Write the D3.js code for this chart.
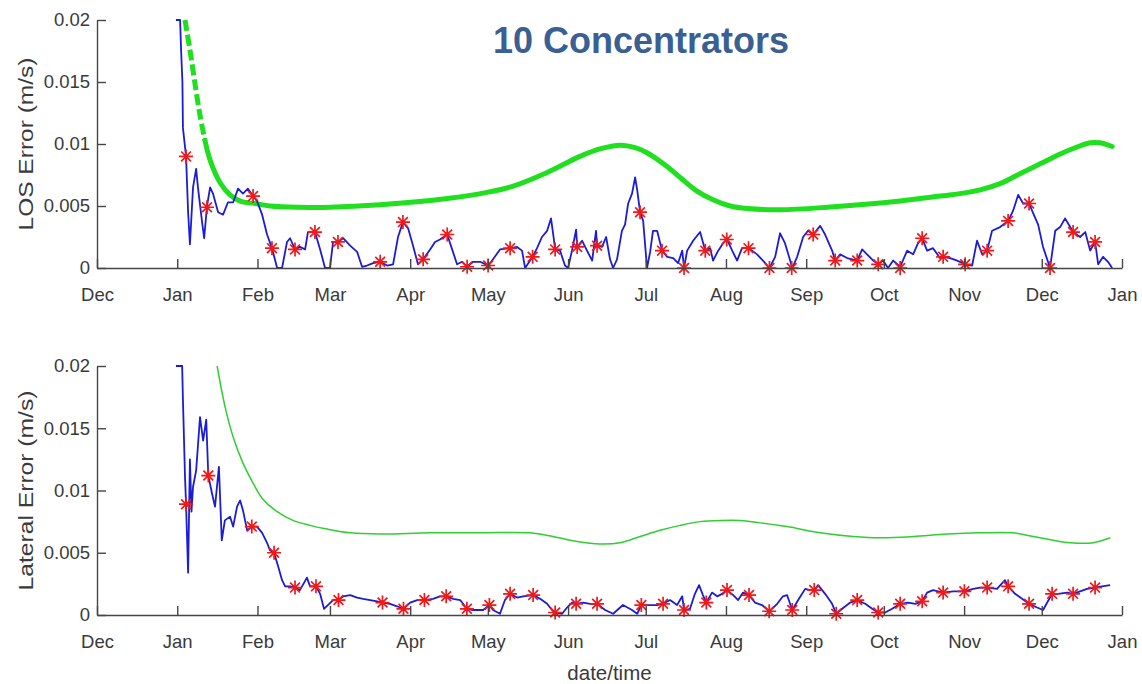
<!DOCTYPE html>
<html>
<head>
<meta charset="utf-8">
<script src="https://cdn.jsdelivr.net/npm/d3@7/dist/d3.min.js"></script>
<style>
  html, body { margin: 0; padding: 0; background: #fff; }
  svg { display: block; font-family: "Liberation Sans", Arial, sans-serif; }
</style>
</head>
<body>
<svg id="chart" width="1142" height="684"></svg>
<script>
// Time axis: Dec 2014 through Jan 2016, one tick per month
const monthLabels = ["Dec","Jan","Feb","Mar","Apr","May","Jun","Jul","Aug","Sep","Oct","Nov","Dec","Jan"];
const yTickValues = [0, 0.005, 0.01, 0.015, 0.02];
const yTickLabels = ["0", "0.005", "0.01", "0.015", "0.02"];

// Series points are [day of 2015 (0 = Jan 1), value in m/s]
const losError = [
  [-0.5,0.02],[1.1,0.02],[1.5,0.0175],[2.0,0.015],[2.2,0.0113],[3.4,0.009],[4.2,0.0045],[4.9,0.0019],
  [6.1,0.0065],[7.3,0.008],[8.0,0.0065],[9.6,0.0037],[10.4,0.0024],[11.5,0.005],[12.7,0.0065],[13.8,0.006],
  [15.8,0.0045],[17.7,0.0043],[19.6,0.0053],[21.6,0.0053],[23.5,0.0064],[25.4,0.006],[27.3,0.0064],[29.3,0.0058],
  [30.8,0.0054],[32.8,0.0043],[34.7,0.0027],[36.6,0.0016],[38.6,0],[40.5,0],[42.4,0.0021],[43.6,0.0024],
  [45.5,0.0015],[47.4,0.0017],[49.4,0.0015],[50.5,0.0029],[53.2,0.0029],[55.2,0.0015],[57.1,0],[59.0,0],
  [60.2,0.0021],[62.1,0.0021],[64.1,0.0024],[66.8,0.0018],[69.5,0.0013],[71.4,0.0001],[73.3,0.0002],[75.7,0.0004],
  [78.4,0.0005],[81.1,0.0002],[83.4,0.0003],[85.3,0.0025],[87.2,0.0037],[89.2,0.0032],[91.1,0.0018],[93.0,0.0003],
  [95.0,0.0007],[97.7,0.0015],[99.6,0.0021],[101.5,0.0023],[104.3,0.0027],[106.2,0.0015],[108.1,0.0003],[110.1,0.0005],
  [112.0,0.0001],[114.3,0.0005],[117.0,0.0005],[120.1,0.0002],[122.0,0.0007],[124.7,0.0015],[128.6,0.0016],[131.3,0.0017],
  [133.2,0.0014],[134.4,0],[137.3,0.0009],[139.0,0.0016],[140.9,0.0025],[142.9,0.003],[144.4,0.004],[145.2,0.0028],
  [146.0,0.0015],[147.9,0.0014],[149.8,0.0002],[151.0,0],[152.5,0.0014],[154.1,0.0031],[154.5,0.0017],[156.4,0.0022],
  [158.3,0.0014],[160.3,0.0006],[161.8,0.003],[162.2,0.0018],[164.1,0.0017],[165.7,0.0025],[167.2,0.0007],[168.4,0],
  [169.9,0.0007],[171.8,0.003],[173.0,0.0035],[174.2,0.0052],[175.7,0.006],[176.9,0.0073],[177.7,0.0063],[178.8,0.0045],
  [180.0,0.0038],[181.5,0],[182.7,0.0013],[183.8,0.003],[185.4,0.003],[187.3,0.0014],[189.3,0.0009],[191.6,0.0008],
  [193.5,0.0004],[195.1,0.0014],[195.8,0],[197.0,0.0014],[199.3,0.0022],[202.0,0.0029],[204.0,0.0014],[205.9,0.0016],
  [207.0,0.0006],[209.0,0.0014],[210.9,0.002],[212.4,0.0023],[214.4,0.0014],[216.3,0.0006],[218.2,0.0016],[220.7,0.0016],
  [222.1,0.0014],[224.0,0.0011],[226.3,0.0006],[228.8,0],[231.0,0.0009],[232.9,0.0028],[234.8,0.002],[236.8,0.0006],
  [237.6,0],[239.5,0.0009],[241.8,0.0025],[243.7,0.003],[245.7,0.0027],[248.4,0.0034],[250.3,0.0027],[253.0,0.0014],
  [254.2,0.0006],[256.1,0.0011],[258.8,0.0008],[262.7,0.0006],[264.6,0.0015],[266.5,0.0011],[268.9,0.0006],[270.8,0.0003],
  [272.7,0.0006],[274.6,0],[276.6,0.0006],[279.3,0.0001],[282.0,0.0014],[284.3,0.0011],[286.2,0.002],[287.8,0.0024],
  [289.7,0.0014],[292.0,0.0016],[294.7,0.0008],[295.9,0.0009],[298.6,0.0008],[301.3,0.0006],[304.4,0.0003],[307.1,0.0002],
  [309.0,0.0022],[311.0,0.0011],[312.9,0.0014],[314.8,0.003],[317.9,0.0033],[321.0,0.0038],[322.9,0.0046],[324.9,0.0059],
  [326.8,0.0052],[329.1,0.0052],[330.7,0.0044],[332.6,0.0035],[334.5,0.0017],[337.2,0],[339.2,0.003],[341.1,0.0033],
  [343.0,0.004],[345.0,0.0033],[346.1,0.0029],[348.8,0.0025],[350.8,0.0029],[352.7,0.0014],[354.6,0.0021],[355.8,0.0003],
  [357.7,0.0009],[359.6,0.0005],[361.2,0]
];

const losSamples = [
  [3.4,0.009],[11.5,0.0049],[29.3,0.0058],[36.6,0.0016],[45.5,0.0015],[53.2,0.0029],[62.1,0.0021],[78.4,0.0005],
  [87.2,0.0037],[95.0,0.0007],[104.3,0.0027],[112.0,0.0001],[120.1,0.0002],[128.6,0.0016],[137.3,0.0009],[146.0,0.0015],
  [154.5,0.0017],[162.2,0.0018],[178.8,0.0045],[187.3,0.0014],[195.8,0],[204.0,0.0014],[212.3,0.0023],[220.7,0.0016],
  [228.8,0],[237.4,0],[245.7,0.0027],[254.2,0.0006],[262.7,0.0006],[270.8,0.0003],[279.3,0],[287.8,0.0024],
  [295.9,0.0009],[304.4,0.0003],[312.9,0.0014],[321.0,0.0038],[329.1,0.0052],[337.2,0],[346.1,0.0029],[354.6,0.0021]
];

const losBound = [
  [3.0,0.02],[4.9,0.0176],[6.9,0.0148],[8.8,0.0123],[10.7,0.0103],[12.7,0.0087],[16.5,0.0069],[20.4,0.0059],
  [24.3,0.0054],[30.1,0.0052],[35.9,0.005],[47.4,0.0049],[59.0,0.0049],[78.4,0.0051],[104.3,0.0056],[119.7,0.0061],
  [129.8,0.0066],[142.9,0.0077],[155.6,0.009],[163.3,0.0096],[171.1,0.0099],[176.9,0.0097],[181.5,0.0093],[188.5,0.0083],
  [194.3,0.0073],[200.8,0.0062],[207.0,0.0055],[213.6,0.005],[220.2,0.0048],[232.9,0.0047],[251.1,0.0049],[279.3,0.0054],
  [294.7,0.0058],[302.5,0.006],[310.2,0.0063],[317.9,0.0068],[325.6,0.0076],[333.4,0.0084],[341.1,0.0092],[346.9,0.0097],
  [352.7,0.0101],[356.5,0.0101],[361.2,0.0098]
];

const latError = [
  [-0.5,0.02],[1.9,0.02],[2.2,0.0173],[3.0,0.0111],[3.4,0.0089],[4.2,0.0034],[4.9,0.0125],[5.5,0.0083],
  [6.1,0.0103],[7.3,0.0116],[8.8,0.0159],[10.0,0.014],[11.2,0.0157],[12.0,0.0112],[13.4,0.0098],[14.6,0.0087],
  [16.1,0.0119],[17.2,0.006],[18.4,0.0076],[20.4,0.0079],[21.6,0.0071],[23.1,0.0087],[24.3,0.0092],[25.4,0.0084],
  [27.0,0.0068],[28.8,0.0071],[30.8,0.0071],[32.8,0.0066],[34.7,0.0058],[35.8,0.0052],[37.4,0.005],[39.0,0.0039],
  [40.5,0.0028],[41.7,0.0023],[43.6,0.0023],[45.5,0.0022],[47.4,0.002],[50.1,0.003],[51.3,0.0023],[53.6,0.0023],
  [55.2,0.0017],[56.7,0.0005],[58.2,0.0008],[60.2,0.0012],[62.3,0.0012],[64.1,0.0015],[66.8,0.0016],[69.5,0.0014],
  [71.8,0.0013],[74.5,0.0012],[77.2,0.0011],[79.3,0.001],[82.2,0.0009],[84.9,0.0007],[87.4,0.0005],[90.0,0.001],
  [92.7,0.0012],[95.5,0.0012],[98.8,0.0013],[101.5,0.0015],[103.9,0.0015],[106.6,0.0013],[109.3,0.0012],[111.9,0.0005],
  [114.3,0.0004],[118.2,0.0004],[120.6,0.0008],[122.0,0.0004],[124.7,0.0001],[126.6,0.0012],[128.6,0.0017],[131.3,0.0014],
  [133.6,0.0015],[137.5,0.0016],[140.2,0.0013],[142.9,0.0009],[144.8,0.0004],[146.0,0.0002],[148.7,0.0001],[150.6,0.0006],
  [152.5,0.001],[154.1,0.0009],[156.8,0.001],[159.5,0.0009],[162.2,0.0009],[165.3,0.0004],[168.4,0.0001],[172.2,0.0008],
  [175.7,0.0004],[177.7,0.0001],[179.3,0.0008],[182.7,0.0008],[185.4,0.0008],[187.7,0.0009],[190.4,0.0012],[193.1,0.0008],
  [195.1,0.0015],[195.8,0.0004],[198.1,0.0005],[200.0,0.0017],[201.6,0.0024],[203.1,0.0016],[204.4,0.001],[206.6,0.0018],
  [208.6,0.0015],[210.5,0.0017],[212.4,0.002],[214.8,0.0016],[216.7,0.0012],[218.6,0.0018],[220.9,0.0016],[223.2,0.001],
  [225.9,0.0008],[228.7,0.0003],[231.8,0.0009],[234.0,0.0015],[235.6,0.0016],[237.6,0.0004],[239.9,0.0012],[242.6,0.0021],
  [244.5,0.002],[246.1,0.002],[247.6,0.0024],[250.3,0.0017],[253.0,0.0009],[254.6,0.0001],[256.9,0.0005],[260.0,0.001],
  [262.7,0.0012],[265.8,0.0009],[268.5,0.0005],[270.8,0.0002],[273.5,0.0002],[276.2,0.0005],[279.3,0.0009],[282.4,0.001],
  [285.1,0.0009],[287.8,0.0011],[289.7,0.0018],[292.0,0.002],[295.9,0.0018],[299.8,0.0019],[304.1,0.0019],[307.5,0.0021],
  [310.2,0.0022],[312.9,0.0022],[316.7,0.0021],[319.8,0.0028],[321.0,0.0023],[323.7,0.0017],[326.4,0.0013],[329.1,0.0009],
  [332.2,0.0006],[334.5,0.0004],[336.1,0.001],[338.0,0.0017],[340.3,0.0017],[343.8,0.0018],[346.1,0.0017],[348.8,0.0019],
  [351.5,0.0021],[354.6,0.0022],[357.3,0.0023],[360.4,0.0024]
];

const latSamples = [
  [3.4,0.0089],[12.0,0.0112],[28.8,0.0071],[37.4,0.005],[45.5,0.0022],[53.6,0.0023],[62.3,0.0012],[79.3,0.001],
  [87.4,0.0005],[95.5,0.0012],[103.9,0.0015],[111.9,0.0005],[120.6,0.0008],[128.6,0.0017],[137.5,0.0016],[146.0,0.0002],
  [154.1,0.0009],[162.2,0.0009],[179.3,0.0008],[187.7,0.0009],[195.8,0.0004],[204.4,0.001],[212.4,0.002],[220.9,0.0016],
  [228.7,0.0003],[237.6,0.0004],[246.1,0.002],[254.6,0.0001],[262.7,0.0012],[270.8,0.0002],[279.3,0.0009],[287.8,0.0011],
  [295.9,0.0018],[304.1,0.0019],[312.9,0.0022],[321.0,0.0023],[329.1,0.0009],[338.0,0.0017],[346.1,0.0017],[354.6,0.0022]
];

const latBound = [
  [15.4,0.02],[18.5,0.0167],[21.6,0.0143],[25.4,0.0122],[29.3,0.0106],[33.1,0.0093],[38.6,0.0083],[44.7,0.0076],
  [51.3,0.0072],[57.9,0.0069],[66.8,0.0066],[78.4,0.0065],[97.7,0.0066],[117.0,0.0066],[136.3,0.0066],[145.2,0.0063],
  [154.5,0.0059],[163.3,0.0057],[171.1,0.0058],[178.8,0.0063],[186.5,0.0068],[194.3,0.0072],[202.0,0.0075],[209.7,0.0076],
  [217.5,0.0076],[225.2,0.0074],[235.6,0.0071],[248.4,0.0066],[261.2,0.0063],[271.6,0.0062],[284.3,0.0063],[297.5,0.0065],
  [310.2,0.0066],[323.0,0.0066],[330.7,0.0063],[338.4,0.006],[345.0,0.0058],[353.9,0.0058],[360.5,0.0062]
];

const yearStart = Date.UTC(2015, 0, 1);
const toDate = d => new Date(yearStart + d * 864e5);

const svg = d3.select("#chart");
const left = 97, right = 1122;

const x = d3.scaleUtc()
  .domain([new Date(Date.UTC(2014, 11, 1)), new Date(Date.UTC(2016, 0, 1))])
  .range([left, right]);

const axisColor = "#454545";
const textColor = "#3a3a3a";

// MATLAB-style asterisk marker
function asterisk(r) {
  const a = r * 0.7;
  return `M${-r},0H${r}M0,${-r}V${r}M${-a},${-a}L${a},${a}M${-a},${a}L${a},${-a}`;
}

function drawPanel(opts) {
  const y = d3.scaleLinear().domain([0, 0.02]).range([opts.bottom, opts.top]);
  const g = svg.append("g");

  const clipId = "clip-" + opts.id;
  svg.append("clipPath").attr("id", clipId)
    .append("rect").attr("x", left).attr("y", opts.top - 1)
    .attr("width", right - left).attr("height", opts.bottom - opts.top + 12);

  const plot = g.append("g").attr("clip-path", `url(#${clipId})`);

  const smooth = d3.line().x(d => x(toDate(d[0]))).y(d => y(d[1])).curve(d3.curveCatmullRom.alpha(0.5));
  const jagged = d3.line().x(d => x(toDate(d[0]))).y(d => y(d[1]));

  // bound curve
  if (opts.dashedAbove != null) {
    const cut = opts.bound.findIndex(d => d[1] < opts.dashedAbove);
    plot.append("path").datum(opts.bound.slice(0, cut))
      .attr("d", smooth).attr("fill", "none")
      .attr("stroke", opts.boundColor).attr("stroke-width", opts.boundWidth)
      .attr("stroke-dasharray", "11,4");
    plot.append("path").datum(opts.bound.slice(cut - 1))
      .attr("d", smooth).attr("fill", "none")
      .attr("stroke", opts.boundColor).attr("stroke-width", opts.boundWidth)
      .attr("stroke-linejoin", "round").attr("stroke-linecap", "round");
  } else {
    plot.append("path").datum(opts.bound)
      .attr("d", smooth).attr("fill", "none")
      .attr("stroke", opts.boundColor).attr("stroke-width", opts.boundWidth);
  }

  // error trace
  plot.append("path").datum(opts.error)
    .attr("d", jagged).attr("fill", "none")
    .attr("stroke", "#1c1cd4").attr("stroke-width", 1.8)
    .attr("stroke-linejoin", "round");

  // sampled points
  plot.selectAll("path.star").data(opts.samples).join("path")
    .attr("class", "star")
    .attr("transform", d => `translate(${x(toDate(d[0]))},${y(d[1])})`)
    .attr("d", asterisk(7))
    .attr("fill", "none").attr("stroke", "#f01818").attr("stroke-width", 1.7);

  // axes
  const xAxis = d3.axisBottom(x)
    .ticks(d3.utcMonth.every(1))
    .tickSizeInner(-9).tickSizeOuter(0).tickPadding(20)
    .tickFormat((d, i) => monthLabels[i]);
  const gx = g.append("g").attr("transform", `translate(0,${opts.bottom})`).call(xAxis);

  const yAxis = d3.axisLeft(y)
    .tickValues(yTickValues)
    .tickSizeInner(-9).tickSizeOuter(0).tickPadding(7)
    .tickFormat((d, i) => yTickLabels[i]);
  const gy = g.append("g").attr("transform", `translate(${left},0)`).call(yAxis);

  [gx, gy].forEach(a => {
    a.select(".domain").attr("stroke", axisColor).attr("stroke-width", 1.4);
    a.selectAll(".tick line").attr("stroke", axisColor).attr("stroke-width", 1.4);
    a.selectAll(".tick text").attr("fill", textColor)
      .style("font-size", "18.5px").style("font-family", "'Liberation Sans', Arial, sans-serif");
  });

  g.append("text")
    .attr("transform", `translate(${opts.labelX},${(opts.top + opts.bottom) / 2}) rotate(-90)`)
    .attr("text-anchor", "middle")
    .attr("fill", textColor)
    .style("font-size", "21px")
    .attr("textLength", opts.labelLength).attr("lengthAdjust", "spacingAndGlyphs")
    .text(opts.label);
}

drawPanel({
  id: "los", top: 20, bottom: 268,
  error: losError, samples: losSamples, bound: losBound,
  boundColor: "#1fdf1f", boundWidth: 5, dashedAbove: 0.0103,
  label: "LOS Error (m/s)", labelX: 33, labelLength: 173
});

drawPanel({
  id: "lat", top: 366, bottom: 615,
  error: latError, samples: latSamples, bound: latBound,
  boundColor: "#2fcf2f", boundWidth: 1.5, dashedAbove: null,
  label: "Lateral Error (m/s)", labelX: 33, labelLength: 200
});

svg.append("text")
  .attr("x", (left + right) / 2).attr("y", 680)
  .attr("text-anchor", "middle").attr("fill", textColor)
  .style("font-size", "20.5px")
  .text("date/time");

svg.append("text")
  .attr("x", 641).attr("y", 53)
  .attr("text-anchor", "middle").attr("fill", "#3a5f92")
  .style("font-size", "36px").style("font-weight", "bold")
  .text("10 Concentrators");
</script>
</body>
</html>
